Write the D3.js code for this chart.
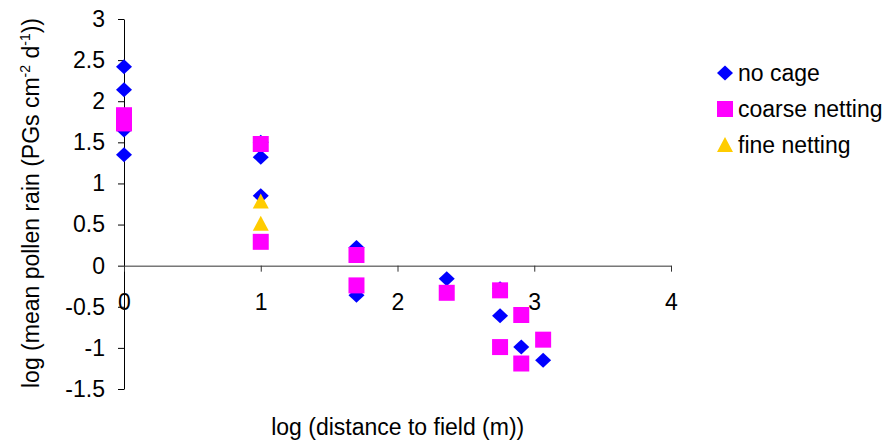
<!DOCTYPE html>
<html><head>
<meta charset="utf-8">
<script src="https://cdnjs.cloudflare.com/ajax/libs/d3/7.8.5/d3.min.js"></script>
<style>
  body { margin: 0; background: #fff; }
  svg { display: block; font-family: Arial, "Liberation Sans", sans-serif; }
</style>
</head>
<body>
<svg id="chart" width="885" height="443"></svg>
<script>
// data
const seriesNames = ["no cage", "coarse netting", "fine netting"];

const noCageX = [0, 0, 0, 0, 1, 1, 1, 1.7, 1.7, 2.36, 2.75, 2.75, 2.905, 3.065];
const noCageY = [2.42, 2.14, 1.65, 1.35, 1.5, 1.32, 0.85, 0.22, -0.36, -0.16, -0.28, -0.61, -0.99, -1.15];

const coarseX = [0, 0, 1, 1, 1.7, 1.7, 2.36, 2.75, 2.75, 2.905, 2.905, 3.065];
const coarseY = [1.83, 1.73, 1.48, 0.29, 0.13, -0.24, -0.33, -0.30, -0.99, -0.60, -1.19, -0.90];

const fineX = [1, 1];
const fineY = [0.78, 0.51];

const xTicks = [0, 1, 2, 3, 4];
const yTicks = [-1.5, -1, -0.5, 0, 0.5, 1, 1.5, 2, 2.5, 3];

const svg = d3.select("#chart");
const fontSize = 23;

const x = d3.scaleLinear().domain([0, 4]).range([124, 671]);
const y = d3.scaleLinear().domain([-1.5, 3]).range([389, 19]);

// marker shapes
const diamond = "M0,-7.5L8,0L0,7.5L-8,0Z";
const square = "M-8,-8H8V8H-8Z";
const triangle = "M0,-8L8,7H-8Z";

const series = [
  { name: seriesNames[0], xs: noCageX, ys: noCageY, color: "#0000ff", shape: diamond },
  { name: seriesNames[1], xs: coarseX, ys: coarseY, color: "#ff00ff", shape: square },
  { name: seriesNames[2], xs: fineX, ys: fineY, color: "#ffcc00", shape: triangle }
];

// y axis
const yAxis = svg.append("g")
  .attr("transform", `translate(${x(0)},0)`)
  .call(d3.axisLeft(y).tickValues(yTicks).tickFormat(d => String(d))
    .tickSize(6).tickSizeOuter(0).tickPadding(13));
yAxis.selectAll("text").attr("font-size", fontSize).attr("fill", "#000")
  .attr("font-family", "Arial, 'Liberation Sans', sans-serif");
yAxis.selectAll("line, path").attr("stroke", "#000");

// x axis sits at y = 0
const xAxis = svg.append("g")
  .attr("transform", `translate(0,${y(0)})`)
  .call(d3.axisBottom(x).tickValues(xTicks).tickFormat(d => String(d))
    .tickSize(6).tickSizeOuter(0).tickPadding(22));
xAxis.selectAll("text").attr("font-size", fontSize).attr("fill", "#000")
  .attr("font-family", "Arial, 'Liberation Sans', sans-serif");
xAxis.selectAll("line, path").attr("stroke", "#333");

// points
series.forEach(s => {
  svg.append("g").selectAll("path")
    .data(s.xs.map((v, i) => [v, s.ys[i]]))
    .join("path")
    .attr("d", s.shape)
    .attr("transform", d => `translate(${x(d[0])},${y(d[1])})`)
    .attr("fill", s.color);
});

// axis titles
svg.append("text")
  .attr("x", 397.7).attr("y", 435)
  .attr("text-anchor", "middle")
  .attr("font-size", fontSize)
  .text("log (distance to field (m))");

const yt = svg.append("text")
  .attr("transform", "translate(39,203) rotate(-90)")
  .attr("text-anchor", "middle")
  .attr("font-size", fontSize);
yt.append("tspan").text("log (mean pollen rain (PGs cm");
yt.append("tspan").attr("dy", -9).attr("font-size", 14).text("-2");
yt.append("tspan").attr("dy", 9).text(" d");
yt.append("tspan").attr("dy", -9).attr("font-size", 14).text("-1");
yt.append("tspan").attr("dy", 9).text("))");

// legend
const legend = svg.append("g").selectAll("g")
  .data(series)
  .join("g")
  .attr("transform", (d, i) => `translate(725,${73 + i * 36})`);
legend.append("path").attr("d", d => d.shape).attr("fill", d => d.color);
legend.append("text")
  .attr("x", 13).attr("y", 8)
  .attr("font-size", fontSize)
  .text(d => d.name);
</script>
</body></html>
